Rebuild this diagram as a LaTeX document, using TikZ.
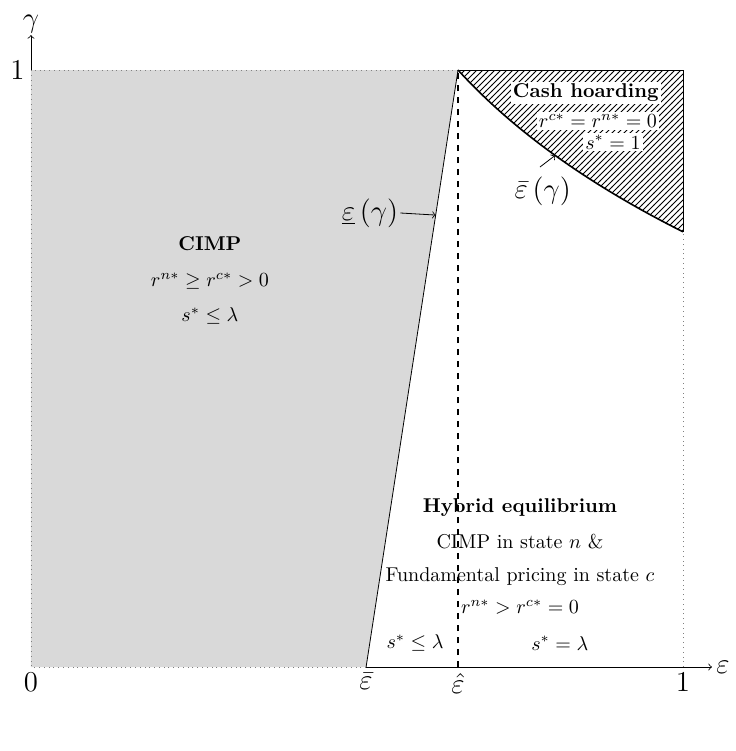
\documentclass[tikz,border=0pt]{standalone}
\usetikzlibrary{patterns}
\begin{document}
\begin{tikzpicture}[x=326pt,y=298.5pt,
  axlab/.style={font=\Large},
  txt/.style={inner sep=1pt},
  wbox/.style={fill=white,inner sep=1pt}]
\useasboundingbox (-0.0475,-0.1407) rectangle (1.0813,1.1173);
\coordinate (O) at (0,0);
\coordinate (eb) at (0.514,0);
\coordinate (eh) at (0.655,0);
\coordinate (one) at (1,0);
\coordinate (T0) at (0,1);
\coordinate (Th) at (0.655,1);
\coordinate (T1) at (1,1);
\coordinate (R) at (1,0.729);
\coordinate (C1) at (0.739,0.8993);
\coordinate (C2) at (0.854,0.809);
\coordinate (xend) at (1.0445,0);
\coordinate (yend) at (0,1.0586);
% grey region
\fill[black!15] (O) -- (eb) -- (Th) -- (T0) -- cycle;
\draw[dotted, gray] (eb) -- (O) -- (T0) -- (Th);
\draw (eb) -- (Th);
% axes
\draw[->] (eb) -- (xend);
\draw[->] (T0) -- (yend);
\node[axlab, right, inner sep=2pt] (epsax) at (xend) {$\varepsilon$};
\node[axlab, above, inner sep=1pt] (gamax) at (yend) {$\gamma$};
% right dotted
\draw[dotted, gray] (one) -- (R);
% hatched
\fill[pattern=north east lines] (Th) .. controls (C1) and (C2) .. (R) -- (T1) -- cycle;
\draw (Th) -- (T1) -- (R);
\draw[thick] (Th) .. controls (C1) and (C2) .. (R);
% dashed
\draw[thick, dashed] (eh) -- (Th);
% axis tick labels
\node[axlab, below, inner sep=3pt] (l0) at (O) {$0$};
\node[axlab, below, inner sep=3pt] (leb) at (eb) {$\bar{\varepsilon}$};
\node[axlab, below, inner sep=3pt] (leh) at (eh) {$\hat{\varepsilon}$};
\node[axlab, below, inner sep=3pt] (l1) at (one) {$1$};
\node[axlab, left, inner sep=3pt] (ly1) at (T0) {$1$};
% CIMP
\node[txt] (cimp) at (0.2745,0.7085) {\textbf{CIMP}};
\node[txt] (cimp2) at (0.2745,0.6466) {$r^{n*}\geq r^{c*}>0$};
\node[txt] (cimp3) at (0.2745,0.588) {$s^{*}\leq\lambda$};
% cash hoarding
\node[wbox] (cash) at (0.851,0.9615) {\textbf{Cash hoarding}};
\node[wbox] (cash2) at (0.8696,0.9146) {$r^{c*}=r^{n*}=0$};
\node[wbox] (cash3) at (0.8926,0.879) {$s^{*}=1$};
% thresholds labels
\node[axlab, inner sep=1pt] (lowlab) at (0.52,0.7605) {$\underline{\varepsilon}\left(\gamma\right)$};
\coordinate (lowpt) at (0.621,0.757);
\draw[->] (lowlab.east) -- (lowpt);
\node[axlab, inner sep=1pt] (uplab) at (0.785,0.797) {$\bar{\varepsilon}\left(\gamma\right)$};
\coordinate (uppt) at (0.804,0.857);
\coordinate (upst) at (0.7807,0.8375);
\draw[->] (upst) -- (uppt);
% hybrid
\node[txt] (hyb) at (0.75,0.2663) {\textbf{Hybrid equilibrium}};
\node[txt] (hyb2) at (0.75,0.2094) {CIMP in state $n$ \&};
\node[txt] (hyb3) at (0.75,0.1508) {Fundamental pricing in state $c$};
\node[txt] (hyb4) at (0.75,0.1005) {$r^{n*}>r^{c*}=0$};
\node[txt] (sl) at (0.589,0.040) {$s^{*}\leq\lambda$};
\node[txt] (se) at (0.811,0.040) {$s^{*}=\lambda$};
\end{tikzpicture}
\end{document}
